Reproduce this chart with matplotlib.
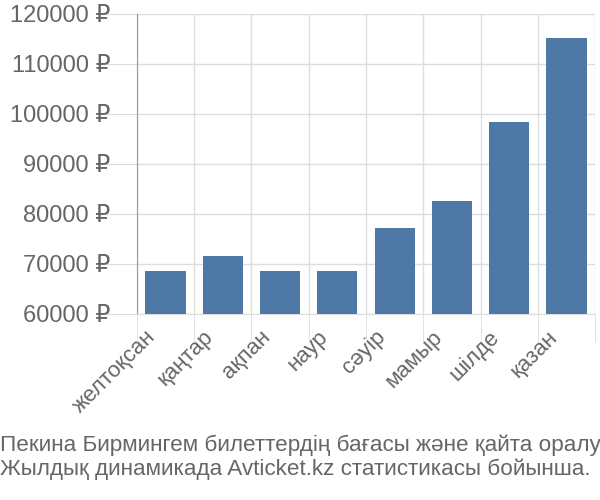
import matplotlib.pyplot as plt
import matplotlib.transforms as mtrans
import numpy as np

months = ["желтоқсан", "қаңтар", "ақпан", "наур", "сәуір", "мамыр", "шілде", "қазан"]
prices = [68600, 71600, 68600, 68600, 77300, 82700, 98500, 115300]
yticks = [60000, 70000, 80000, 90000, 100000, 110000, 120000]
caption = ("Пекина Бирмингем билеттердің бағасы және қайта оралу\n"
           "Жылдық динамикада Avticket.kz статистикасы бойынша.")

plt.rcParams['font.family'] = ['Liberation Sans', 'DejaVu Sans']

fig = plt.figure(figsize=(6, 5), dpi=100)
ax = fig.add_axes([0.228, 0.372, 0.764, 0.6])

x = np.arange(len(months))
ax.bar(x, prices, width=0.7, color='#4e78a6', zorder=3)

ax.set_xlim(-0.5, len(months) - 0.5)
ax.set_ylim(60000, 120000)

ax.set_yticks(yticks)
ax.set_yticklabels([f"{v} ₽" for v in yticks])
ax.set_xticks(x)
ax.set_xticklabels(months, rotation=45, ha='right', rotation_mode='anchor')
ax.set_xticks(np.arange(len(months) + 1) - 0.5, minor=True)

ax.tick_params(axis='y', length=22, color='#dddddd', labelsize=17, labelcolor='#666666', pad=-3)
ax.tick_params(axis='x', which='major', length=0, labelsize=16, labelcolor='#666666', pad=9)
ax.tick_params(axis='x', which='minor', length=20, color='#dddddd')

# shift the rotated labels a bit to the left
shift = mtrans.ScaledTranslation(-0.2, 0, fig.dpi_scale_trans)
for lbl in ax.get_xticklabels():
    lbl.set_transform(lbl.get_transform() + shift)

ax.grid(axis='y', color='#dddddd', linewidth=1, zorder=0)
ax.grid(axis='x', which='minor', color='#dddddd', linewidth=1, zorder=0)

for side in ['top', 'right']:
    ax.spines[side].set_visible(False)
ax.spines['bottom'].set_color('#dddddd')
ax.spines['left'].set_color('#999999')

fig.text(0.0, 0.132, caption, fontsize=16.2, color='#666666', ha='left', va='top',
         linespacing=1.17)

fig.savefig('out.png', dpi=100)
